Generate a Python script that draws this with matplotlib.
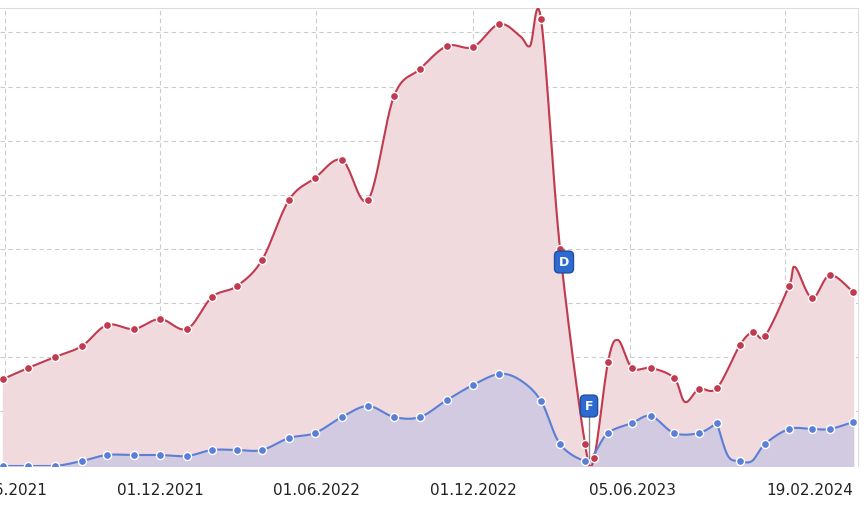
import numpy as np
import matplotlib
matplotlib.use("Agg")
import matplotlib.pyplot as plt

# x positions (timeline units) and values
red_x = [3,28,55,82,107,134,160,187,212,237,262,289,315,342,368,394,420,447,473,499,541,560,585,594,608,632,651,674,699,717,740,753,765,789,812,830,853]
red_y = [87,98,109,120,141,137,147,137,169,180,206,266,288,306,266,370,397,420,419,442,447,217,22,8,104,98,98,88,77,78,121,134,130,180,168,191,174]
red_extra_x = [520,530,618,685,795]
red_extra_y = [430,420,126,64,199]
blue_x = [3,28,55,82,107,134,160,187,212,237,262,289,315,342,368,394,420,447,473,499,541,560,585,608,632,651,674,699,717,740,765,789,812,830,853]
blue_y = [0,0,0,5,11,11,11,10,16,16,16,28,33,49,60,49,49,66,81,92,65,22,5,33,43,50,33,33,43,5,22,37,37,37,44]
blue_extra_x = [520,594,717,728,752]
blue_extra_y = [86,12,43,10,5]
tick_pos = [3,160,316,473,632,810]
tick_labels = ["01.06.2021","01.12.2021","01.06.2022","01.12.2022","05.06.2023","19.02.2024"]
grid_x = [5,160,316,473,630,785]

def smooth(xs, ys, n=12):
    o = np.argsort(xs); xs = np.array(xs, float)[o]; ys = np.array(ys, float)[o]
    P = np.column_stack([xs, ys]); P = np.vstack([P[0], P, P[-1]])
    out = []
    for i in range(1, len(P)-2):
        p0,p1,p2,p3 = P[i-1],P[i],P[i+1],P[i+2]
        t = np.linspace(0,1,n,endpoint=False)[:,None]
        seg = 0.5*((2*p1)+(-p0+p2)*t+(2*p0-5*p1+4*p2-p3)*t**2+(-p0+3*p1-3*p2+p3)*t**3)
        out.append(seg)
    out.append(P[-2][None])
    s = np.vstack(out)
    return s[:,0], np.clip(s[:,1], 0, None)

fig = plt.figure(figsize=(8.67,5.11), dpi=100)
ax = fig.add_axes([0, 1-466/511, 858/867, 458/511])
ax.set_xlim(0,858); ax.set_ylim(0,458)
red = "#c13a4f"; blue = "#5b7fd6"
rx, ry = smooth(red_x+red_extra_x, red_y+red_extra_y)
bx, by = smooth(blue_x+blue_extra_x, blue_y+blue_extra_y)
ax.fill_between(rx, ry, color="#f0dadd", zorder=1)
ax.fill_between(bx, by, color="#d2cae0", zorder=2)
ax.plot(rx, ry, color=red, lw=1.5, zorder=3)
ax.plot(bx, by, color=blue, lw=1.5, zorder=3)
ax.scatter(red_x, red_y, s=34, color=red, edgecolor="white", lw=1, zorder=4)
ax.scatter(blue_x, blue_y, s=34, color=blue, edgecolor="white", lw=1, zorder=4)
for g in [434,379,325,271,217,163,109,55]:
    ax.axhline(g, color="#cccccc", ls=(0,(4,3)), lw=0.8, zorder=0)
for g in grid_x:
    ax.axvline(g, color="#cccccc", ls=(0,(4,3)), lw=0.8, zorder=0)
for lbl, x, y, y0 in [("D",564,204,217),("F",589,60,8)]:
    ax.plot([x,x],[y0,y],color="#888888",lw=1,zorder=5)
    ax.text(x, y, lbl, ha="center", va="center", color="white", fontsize=9, fontweight="bold", zorder=6,
            bbox=dict(boxstyle="round,pad=0.35", fc="#2d6bd1", ec="#1f4fa0"))
ax.set_xticks(tick_pos); ax.set_xticklabels(tick_labels, fontsize=11, color="#222222")
ax.tick_params(length=0, pad=12)
ax.set_yticks([])
for s in ["left","bottom"]:
    ax.spines[s].set_visible(False)
for s in ["top","right"]:
    ax.spines[s].set_color("#dddddd")
fig.savefig("out.png")
